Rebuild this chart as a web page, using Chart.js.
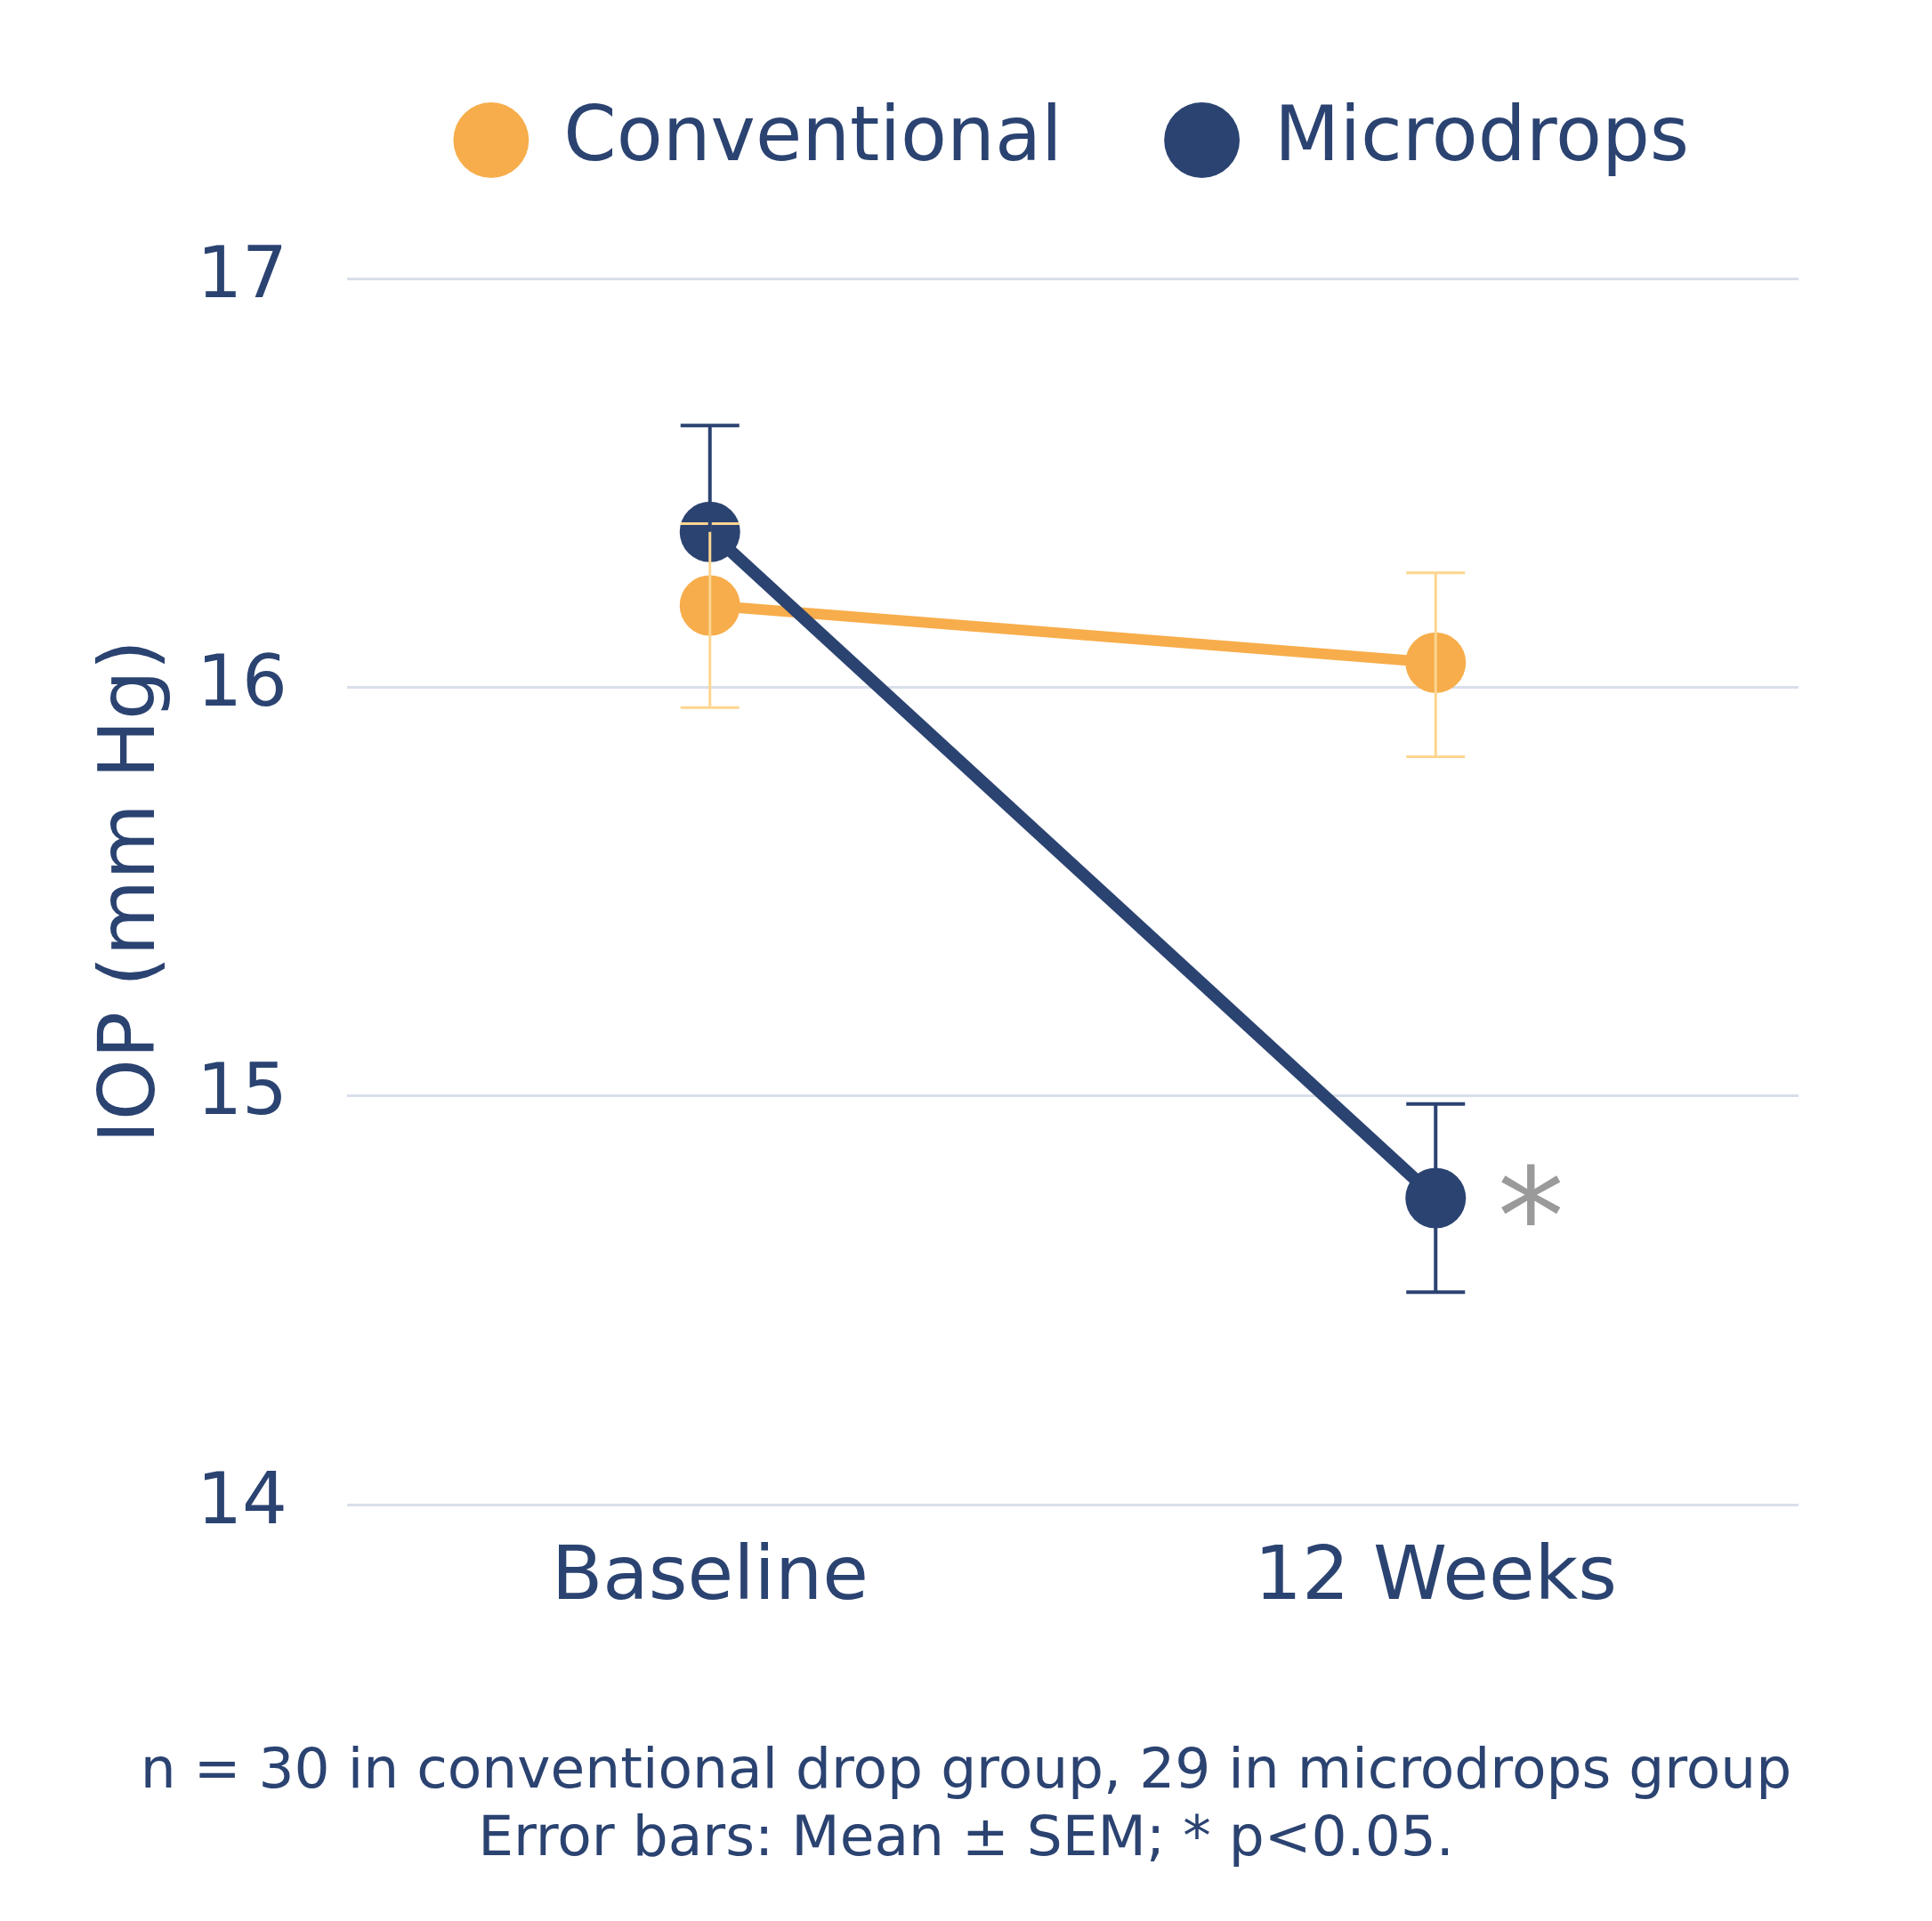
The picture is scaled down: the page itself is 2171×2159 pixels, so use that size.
<!DOCTYPE html>
<html>
<head>
<meta charset="utf-8">
<script src="https://cdn.jsdelivr.net/npm/chart.js@4.4.1/dist/chart.umd.min.js"></script>
<style>
  body { margin: 0; background: #fff; }
  #wrap { position: relative; width: 2171px; height: 2159px; }
  #nota {
    position: absolute; left: 0; top: 1950px; width: 2171px;
    text-align: center; color: #2b4371;
    font-family: "DejaVu Sans", sans-serif; font-size: 63px; line-height: 76px;
  }
</style>
</head>
<body>
<div id="wrap">
  <canvas id="grafica" width="2171" height="1880"></canvas>
  <div id="nota">n = 30 in conventional drop group, 29 in microdrops group<br>Error bars: Mean ± SEM; * p&lt;0.05.</div>
</div>
<script>
// datos
const etiquetas = ["Baseline", "12 Weeks"];
const convencional = [16.20, 16.06];
const convBajo = [15.95, 15.83];
const convAlto = [16.40, 16.28];
const microgotas = [16.38, 14.75];
const microBajo = [16.38, 14.52];
const microAlto = [16.64, 14.98];
const ticksY = [14, 15, 16, 17];
const marcaSig = "*";

const naranja = "#f7ad4b";
const naranjaClaro = "#fdd590";
const azul = "#2b4371";
const fuente = "'DejaVu Sans', sans-serif";

// la leyenda ocupa mas alto: deja espacio hasta el area del grafico
const ajusteLeyenda = {
  id: "ajusteLeyenda",
  beforeLayout(chart) {
    const ley = chart.legend;
    if (ley && !ley._ajustada) {
      const fitOriginal = ley.fit;
      ley.fit = function () {
        fitOriginal.call(this);
        this.height = 316;
      };
      ley._ajustada = true;
    }
  }
};

// barras de error dibujadas encima de todo
const barrasError = {
  id: "barrasError",
  afterDatasetsDraw(chart) {
    const ctx = chart.ctx;
    const y = chart.scales.y;
    const grupos = [
      { idx: 0, bajo: convBajo, alto: convAlto, color: naranjaClaro, ancho: 3 },
      { idx: 1, bajo: microBajo, alto: microAlto, color: azul, ancho: 4 }
    ];
    ctx.save();
    grupos.forEach(function (g) {
      const meta = chart.getDatasetMeta(g.idx);
      meta.data.forEach(function (p, i) {
        const y1 = y.getPixelForValue(g.alto[i]);
        const y2 = y.getPixelForValue(g.bajo[i]);
        ctx.strokeStyle = g.color;
        ctx.lineWidth = g.ancho;
        ctx.beginPath();
        ctx.moveTo(p.x, y1); ctx.lineTo(p.x, y2);
        ctx.moveTo(p.x - 33, y1); ctx.lineTo(p.x + 33, y1);
        if (g.bajo[i] != chart.data.datasets[g.idx].data[i]) {
          ctx.moveTo(p.x - 33, y2); ctx.lineTo(p.x + 33, y2);
        }
        ctx.stroke();
      });
    });
    // asterisco de significancia
    const p = chart.getDatasetMeta(1).data[1];
    ctx.fillStyle = "#9a9a9a";
    ctx.font = "150px " + fuente;
    ctx.textAlign = "center";
    ctx.textBaseline = "alphabetic";
    ctx.fillText(marcaSig, p.x + 107, p.y + 73);
    ctx.restore();
  }
};

const config = {
  type: "line",
  data: {
    labels: etiquetas,
    datasets: [
      {
        label: "Conventional",
        data: convencional,
        borderColor: naranja,
        backgroundColor: naranja,
        borderWidth: 12,
        pointRadius: 34,
        pointBorderWidth: 0,
        pointHoverRadius: 34,
        tension: 0,
        order: 1
      },
      {
        label: "Microdrops",
        data: microgotas,
        borderColor: azul,
        backgroundColor: azul,
        borderWidth: 14,
        pointRadius: 34,
        pointBorderWidth: 0,
        pointHoverRadius: 34,
        tension: 0,
        order: 0
      }
    ]
  },
  options: {
    responsive: false,
    animation: false,
    layout: { padding: { top: -3, left: 40, right: 150, bottom: 0 } },
    plugins: {
      tooltip: { enabled: false },
      legend: {
        position: "top",
        fullSize: false,
        labels: {
          usePointStyle: true,
          pointStyle: "circle",
          boxHeight: 60,
          boxWidth: 78,
          padding: 118,
          color: azul,
          font: { family: fuente, size: 85 },
          sort: function (a, b) { return a.datasetIndex - b.datasetIndex; }
        }
      }
    },
    scales: {
      x: {
        offset: true,
        grid: { display: false, drawTicks: false },
        border: { display: false },
        ticks: { color: azul, padding: 34, font: { family: fuente, size: 84 } },
        afterFit: function (scale) { scale.height = 1880 - 1691; }
      },
      y: {
        min: 14,
        max: 17,
        afterBuildTicks: function (scale) {
          scale.ticks = ticksY.map(function (v) { return { value: v }; });
        },
        grid: { color: "#d9deea", lineWidth: 3, drawTicks: false },
        border: { display: false },
        ticks: { color: azul, padding: 67, font: { family: fuente, size: 80 } },
        title: {
          display: true,
          text: "IOP (mm Hg)",
          color: azul,
          padding: { top: 57, bottom: 0 },
          font: { family: fuente, size: 88 }
        },
        afterFit: function (scale) { scale.width = 390 - 40; }
      }
    }
  },
  plugins: [ajusteLeyenda, barrasError]
};

new Chart(document.getElementById("grafica"), config);
</script>
</body>
</html>
